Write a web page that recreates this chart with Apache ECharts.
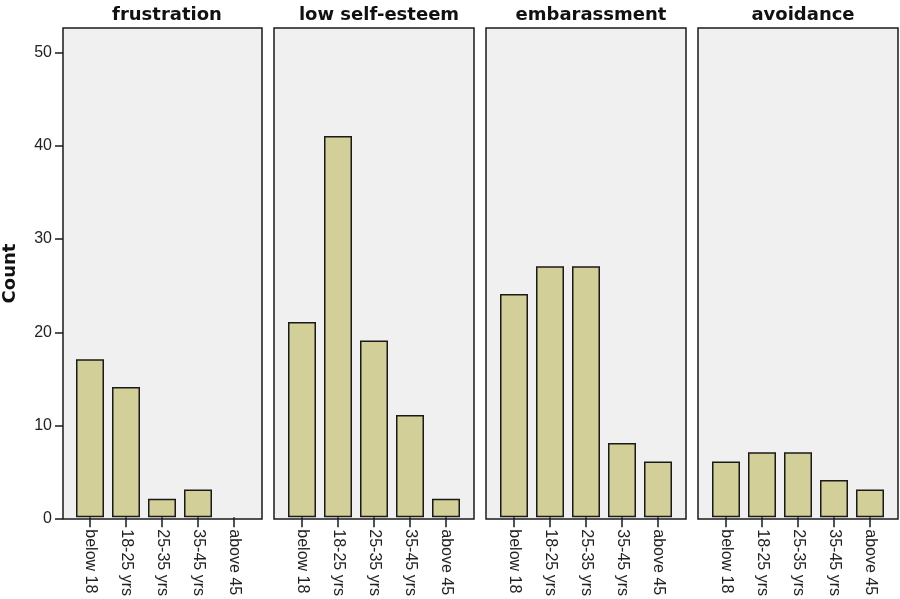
<!DOCTYPE html>
<html>
<head>
<meta charset="utf-8">
<script src="https://cdn.jsdelivr.net/npm/echarts@6/dist/echarts.min.js"></script>
<style>html,body{margin:0;padding:0;background:#fff}#c{width:900px;height:599px}</style>
</head>
<body>
<div id="c"></div>
<script>
const categories = ['below 18', '18-25 yrs', '25-35 yrs', '35-45 yrs', 'above 45'];
const panels = ['frustration', 'low self-esteem', 'embarassment', 'avoidance'];
const frustration = [17, 14, 2, 3, 0];
const lowSelfEsteem = [21, 41, 19, 11, 2];
const embarassment = [24, 27, 27, 8, 6];
const avoidance = [6, 7, 7, 4, 3];
const yTicks = [0, 10, 20, 30, 40, 50];
const seriesData = [frustration, lowSelfEsteem, embarassment, avoidance];

const YMAX = 52.6;
const panelLeft = [62, 274, 486, 698];
const panelW = 200, pad = 10, gTop = 28, gBottom = 80;

const grid = [], xAxis = [], yAxis = [], series = [], title = [];
panels.forEach((p, i) => {
  grid.push({left: panelLeft[i], width: panelW, top: gTop, bottom: gBottom, show: true,
    backgroundColor: '#f0f0f0', borderColor: '#1a1a1a', borderWidth: 1.5});
  grid.push({left: panelLeft[i] + pad, width: panelW - 2 * pad, top: gTop, bottom: gBottom});
  const fg = 2 * i, dg = 2 * i + 1;
  xAxis.push({gridIndex: fg, type: 'value', show: false, min: 0, max: 1});
  yAxis.push({gridIndex: fg, type: 'value', min: 0, max: YMAX,
    show: i === 0,
    axisLine: {show: false},
    axisTick: {show: i === 0, length: 8, customValues: yTicks, lineStyle: {color: '#1a1a1a', width: 1.5}},
    axisLabel: {show: i === 0, margin: 11, customValues: yTicks, fontFamily: 'Liberation Sans, Arial', fontSize: 16, color: '#222'},
    splitLine: {show: false},
    name: i === 0 ? 'Count' : '', nameLocation: 'middle', nameGap: 44, nameRotate: 90,
    nameTextStyle: {fontFamily: 'DejaVu Sans', fontWeight: 'bold', fontSize: 18, color: '#111'}
  });
  xAxis.push({gridIndex: dg, type: 'category', data: categories, boundaryGap: true,
    axisLine: {show: false},
    axisTick: {show: true, alignWithLabel: true, length: 10, lineStyle: {color: '#1a1a1a', width: 1.5}},
    axisLabel: {rotate: -90, margin: 12, fontFamily: 'Liberation Sans, Arial', fontSize: 16, color: '#222', interval: 0}
  });
  yAxis.push({gridIndex: dg, type: 'value', min: 0, max: YMAX, show: false, splitLine: {show: false}});
  series.push({type: 'bar', xAxisIndex: dg, yAxisIndex: dg,
    data: seriesData[i].map(v => (v === 0 ? null : v)), barWidth: 28,
    itemStyle: {color: '#d3cf98', borderColor: '#1a1a1a', borderWidth: 1.5}, silent: true});
  title.push({text: p, left: panelLeft[i] + panelW / 2, top: 1, textAlign: 'center',
    textStyle: {fontFamily: 'DejaVu Sans', fontWeight: 'bold', fontSize: 18, color: '#111'}});
});

const chart = echarts.init(document.getElementById('c'), null, {renderer: 'canvas'});
chart.setOption({animation: false, backgroundColor: '#fff', title, grid, xAxis, yAxis, series});
</script>
</body>
</html>
